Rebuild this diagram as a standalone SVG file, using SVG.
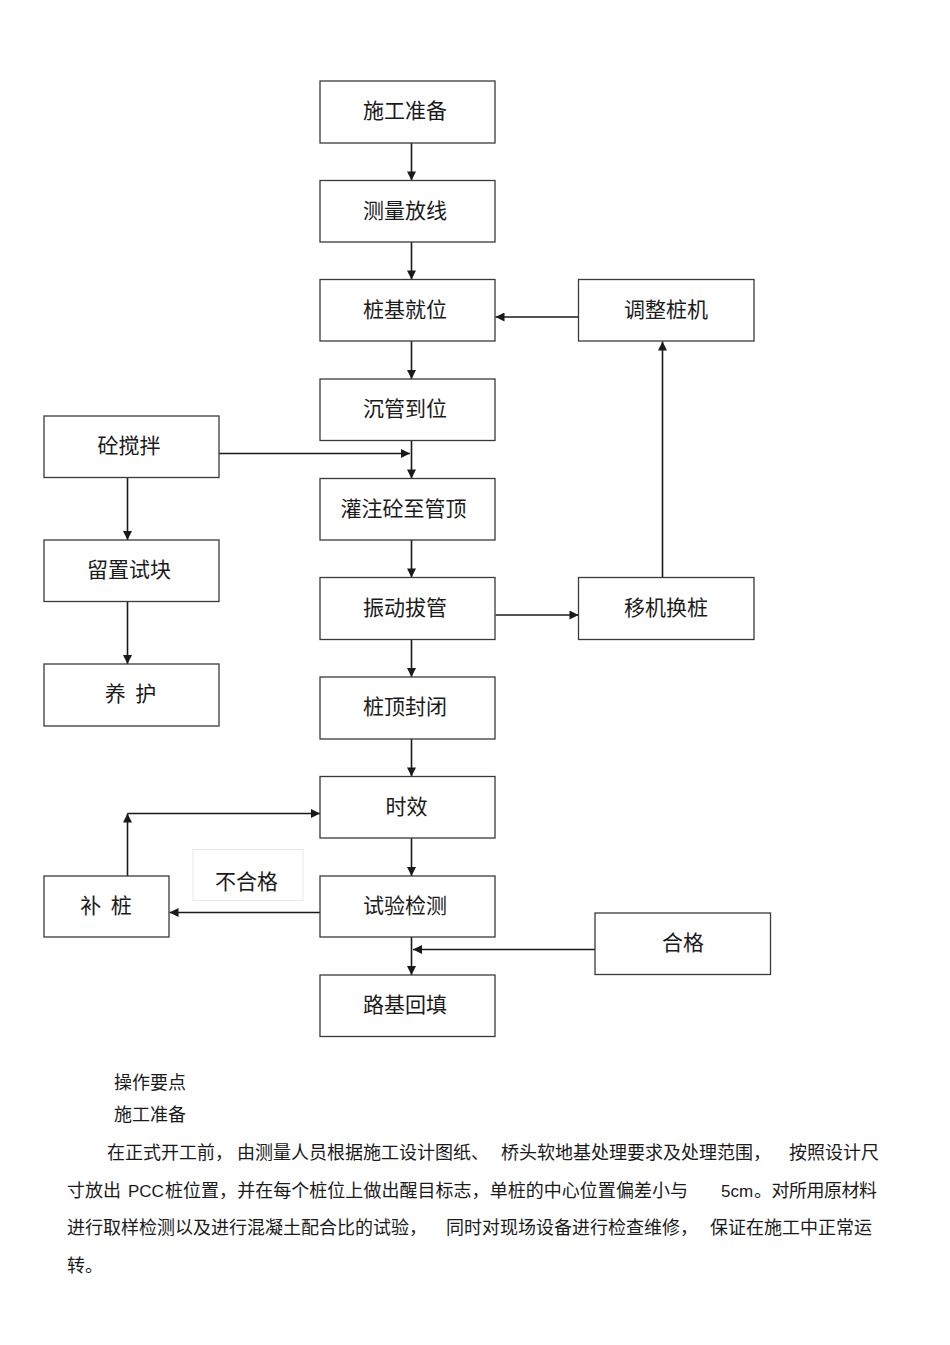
<svg xmlns="http://www.w3.org/2000/svg" width="950" height="1345" viewBox="0 0 950 1345">
<style>
.box{fill:#fff;stroke:#3a3a3a;stroke-width:1.3}
.lbl{font-family:"Noto Sans CJK SC","Noto Sans",sans-serif;font-size:21px;fill:#1a1a1a;text-anchor:middle}
.ln{fill:none;stroke:#1a1a1a;stroke-width:1.6}
.body{font-family:"Noto Sans CJK SC","Noto Sans",sans-serif;font-size:18px;fill:#1a1a1a}
.lat{font-family:"Liberation Sans",Arial,sans-serif;font-size:17px;fill:#1a1a1a}
</style>
<defs>
<marker id="ah" viewBox="0 0 10 10" refX="10" refY="5" markerWidth="10" markerHeight="9" markerUnits="userSpaceOnUse" orient="auto">
<path d="M0,0 L10,5 L0,10 z" fill="#1a1a1a"/>
</marker>
</defs>
<rect width="950" height="1345" fill="#fff"/>

<g id="connectors">
<line class="ln" x1="411.5" y1="143" x2="411.5" y2="180.5" marker-end="url(#ah)"/>
<line class="ln" x1="411.5" y1="242" x2="411.5" y2="279.5" marker-end="url(#ah)"/>
<line class="ln" x1="411.5" y1="341" x2="411.5" y2="379" marker-end="url(#ah)"/>
<line class="ln" x1="411.5" y1="440.5" x2="411.5" y2="478.5" marker-end="url(#ah)"/>
<line class="ln" x1="411.5" y1="540" x2="411.5" y2="577.5" marker-end="url(#ah)"/>
<line class="ln" x1="411.5" y1="639.5" x2="411.5" y2="677" marker-end="url(#ah)"/>
<line class="ln" x1="411.5" y1="739" x2="411.5" y2="776.5" marker-end="url(#ah)"/>
<line class="ln" x1="411.5" y1="838" x2="411.5" y2="876" marker-end="url(#ah)"/>
<line class="ln" x1="411.5" y1="937" x2="411.5" y2="975" marker-end="url(#ah)"/>
<line class="ln" x1="219" y1="453.5" x2="410" y2="453.5" marker-end="url(#ah)"/>
<line class="ln" x1="578.5" y1="317" x2="495.5" y2="317" marker-end="url(#ah)"/>
<line class="ln" x1="662.5" y1="577.5" x2="662.5" y2="341.5" marker-end="url(#ah)"/>
<line class="ln" x1="495.5" y1="615" x2="578.5" y2="615" marker-end="url(#ah)"/>
<line class="ln" x1="127.5" y1="478" x2="127.5" y2="540" marker-end="url(#ah)"/>
<line class="ln" x1="127.5" y1="602" x2="127.5" y2="664" marker-end="url(#ah)"/>
<line class="ln" x1="320" y1="912.5" x2="169.5" y2="912.5" marker-end="url(#ah)"/>
<line class="ln" x1="127.5" y1="876" x2="127.5" y2="813.5" marker-end="url(#ah)"/>
<line class="ln" x1="127.5" y1="813.5" x2="320" y2="813.5" marker-end="url(#ah)"/>
<line class="ln" x1="595" y1="949.5" x2="413" y2="949.5" marker-end="url(#ah)"/>
</g>

<g id="n1"><rect class="box" x="320" y="81" width="175" height="62"/><text class="lbl" x="405" y="118">施工准备</text></g>
<g id="n2"><rect class="box" x="320" y="180.5" width="175" height="61.5"/><text class="lbl" x="405" y="217.5">测量放线</text></g>
<g id="n3"><rect class="box" x="320" y="279.5" width="175" height="61.5"/><text class="lbl" x="405" y="317">桩基就位</text></g>
<g id="n4"><rect class="box" x="320" y="379" width="175" height="61.5"/><text class="lbl" x="405" y="416">沉管到位</text></g>
<g id="n5"><rect class="box" x="320" y="478.5" width="175" height="61.5"/><text class="lbl" x="403.5" y="515.5">灌注砼至管顶</text></g>
<g id="n6"><rect class="box" x="320" y="577.5" width="175" height="62"/><text class="lbl" x="405" y="614.5">振动拔管</text></g>
<g id="n7"><rect class="box" x="320" y="677" width="175" height="62"/><text class="lbl" x="405" y="714">桩顶封闭</text></g>
<g id="n8"><rect class="box" x="320" y="776.5" width="175" height="61.5"/><text class="lbl" x="406.5" y="813.5">时效</text></g>
<g id="n9"><rect class="box" x="320" y="876" width="175" height="61"/><text class="lbl" x="405" y="913">试验检测</text></g>
<g id="n10"><rect class="box" x="320" y="975" width="175" height="61.5"/><text class="lbl" x="405" y="1012">路基回填</text></g>
<g id="n11"><rect class="box" x="578.5" y="279.5" width="175.5" height="61.5"/><text class="lbl" x="666" y="317">调整桩机</text></g>
<g id="n12"><rect class="box" x="578.5" y="577.5" width="175.5" height="62"/><text class="lbl" x="666" y="614.5">移机换桩</text></g>
<g id="n13"><rect class="box" x="595" y="913" width="175.5" height="61.5"/><text class="lbl" x="683" y="950">合格</text></g>
<g id="n14"><rect class="box" x="44" y="416" width="175" height="61.5"/><text class="lbl" x="129" y="453">砼搅拌</text></g>
<g id="n15"><rect class="box" x="44" y="540" width="175" height="61.5"/><text class="lbl" x="129" y="577">留置试块</text></g>
<g id="n16"><rect class="box" x="44" y="664" width="175" height="62"/><text class="lbl" x="130.5" y="701" xml:space="preserve">养  护</text></g>
<g id="n17"><rect class="box" x="44" y="876" width="125" height="61"/><text class="lbl" x="106" y="913" xml:space="preserve">补  桩</text></g>
<g id="n18"><rect x="193" y="849.5" width="110" height="51" fill="#fff" stroke="#e2e2e2" stroke-width="0.8"/><text class="lbl" x="246.5" y="889">不合格</text></g>

<g id="notes">
<text class="body" x="114" y="1088.5">操作要点</text>
<text class="body" x="114" y="1120.5">施工准备</text>
<text class="body" x="107" y="1158.5">在正式开工前，</text>
<text class="body" x="237" y="1158.5">由测量人员根据施工设计图纸、</text>
<text class="body" x="501" y="1158.5">桥头软地基处理要求及处理范围，</text>
<text class="body" x="789" y="1158.5">按照设计尺</text>
<text class="body" x="67" y="1196.5">寸放出</text>
<text class="lat" x="128" y="1196.5">PCC</text>
<text class="body" x="165" y="1196.5" textLength="523" lengthAdjust="spacing">桩位置，并在每个桩位上做出醒目标志，单桩的中心位置偏差小与</text>
<text class="lat" x="721" y="1196.5">5cm</text>
<text class="body" x="754" y="1196.5" textLength="123" lengthAdjust="spacing">。对所用原材料</text>
<text class="body" x="67" y="1233.5">进行取样检测以及进行混凝土配合比的试验，</text>
<text class="body" x="446" y="1233.5">同时对现场设备进行检查维修，</text>
<text class="body" x="710" y="1233.5">保证在施工中正常运</text>
<text class="body" x="67" y="1271.5">转。</text>
</g>
</svg>
